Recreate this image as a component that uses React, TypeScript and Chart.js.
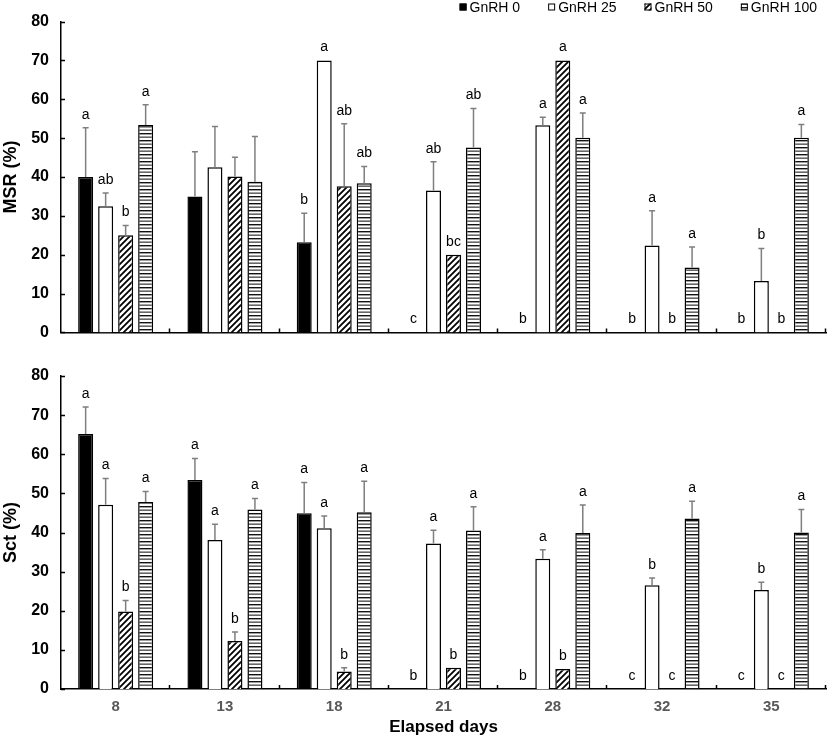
import React, { useEffect, useRef } from "react";
import { Chart, registerables } from "chart.js";

Chart.register(...registerables);

const FONT = "Arial, 'Liberation Sans', Helvetica, sans-serif";

// ---------- data ----------
const categories = ["8", "13", "18", "21", "28", "32", "35"];
const seriesLabels = ["GnRH 0", "GnRH 25", "GnRH 50", "GnRH 100"];

// MSR (%)
const msr0 = [40, 35, 23.2, 0, 0, 0, 0];
const msr0Se = [12.7, 11.5, 7.5, 0, 0, 0, 0];
const msr0Letters = ["a", "", "b", "c", "b", "b", "b"];
const msr25 = [32.5, 42.5, 70, 36.5, 53.3, 22.4, 13.2];
const msr25Se = [3.4, 10.5, 0, 7.4, 2.1, 8.9, 8.4];
const msr25Letters = ["ab", "", "a", "ab", "a", "a", "b"];
const msr50 = [25, 40.1, 37.6, 20, 70, 0, 0];
const msr50Se = [2.5, 5, 16.1, 0, 0, 0, 0];
const msr50Letters = ["b", "", "ab", "bc", "a", "b", "b"];
const msr100 = [53.4, 38.8, 38.4, 47.6, 50.1, 16.7, 50.1];
const msr100Se = [5.2, 11.6, 4.3, 10, 6.4, 5.3, 3.4];
const msr100Letters = ["a", "", "ab", "ab", "a", "a", "a"];

// Sct (%)
const sct0 = [65.2, 53.4, 44.9, 0, 0, 0, 0];
const sct0Se = [6.9, 5.5, 7.9, 0, 0, 0, 0];
const sct0Letters = ["a", "a", "a", "b", "b", "c", "c"];
const sct25 = [47.1, 38.1, 41.1, 37.2, 33.3, 26.5, 25.3];
const sct25Se = [6.7, 4, 3.1, 3.4, 2.3, 1.9, 2];
const sct25Letters = ["a", "a", "a", "a", "a", "b", "b"];
const sct50 = [19.8, 12.3, 4.5, 5.4, 5.1, 0, 0];
const sct50Se = [2.8, 2.3, 0.9, 0, 0, 0, 0];
const sct50Letters = ["b", "b", "b", "b", "b", "c", "c"];
const sct100 = [47.8, 45.9, 45.2, 40.5, 39.9, 43.6, 40];
const sct100Se = [2.7, 2.8, 7.9, 6.1, 7.1, 4.4, 5.9];
const sct100Letters = ["a", "a", "a", "a", "a", "a", "a"];

const yTicksMax = 80;
const yTickStep = 10;

// ---------- patterns ----------
function makeDiagonal(): CanvasPattern | string {
  const c = document.createElement("canvas");
  c.width = 6;
  c.height = 6;
  const g = c.getContext("2d");
  if (!g) return "#888";
  g.fillStyle = "#fff";
  g.fillRect(0, 0, 6, 6);
  g.strokeStyle = "#000";
  g.lineWidth = 1.8;
  g.beginPath();
  g.moveTo(-1, 7);
  g.lineTo(7, -1);
  g.moveTo(-4, 4);
  g.lineTo(4, -4);
  g.moveTo(2, 10);
  g.lineTo(10, 2);
  g.stroke();
  return g.createPattern(c, "repeat") || "#888";
}

function makeHorizontal(): CanvasPattern | string {
  const c = document.createElement("canvas");
  c.width = 4;
  c.height = 7;
  const g = c.getContext("2d");
  if (!g) return "#888";
  g.fillStyle = "#fff";
  g.fillRect(0, 0, 4, 7);
  g.fillStyle = "#111";
  g.fillRect(0, 0, 4, 1.4);
  g.fillStyle = "#444";
  g.fillRect(0, 3.5, 4, 1.3);
  return g.createPattern(c, "repeat") || "#888";
}

// ---------- plugins ----------
const annotPlugin = {
  id: "annot",
  afterDatasetsDraw(chart: any) {
    const ctx = chart.ctx;
    const y = chart.scales.y;
    ctx.save();
    chart.data.datasets.forEach((ds: any, di: number) => {
      const meta = chart.getDatasetMeta(di);
      meta.data.forEach((bar: any, i: number) => {
        const v = ds.data[i];
        const se = ds.errors[i];
        const letter = ds.letters[i];
        let top = bar.y;
        if (se > 0) {
          const ey = y.getPixelForValue(v + se);
          ctx.strokeStyle = "#7f7f7f";
          ctx.lineWidth = 1.5;
          ctx.beginPath();
          ctx.moveTo(bar.x, bar.y);
          ctx.lineTo(bar.x, ey);
          ctx.moveTo(bar.x - 3, ey);
          ctx.lineTo(bar.x + 3, ey);
          ctx.stroke();
          top = ey;
        }
        if (letter) {
          ctx.fillStyle = "#000";
          ctx.font = `14px ${FONT}`;
          ctx.textAlign = "center";
          ctx.textBaseline = "middle";
          ctx.fillText(letter, bar.x, top - 13);
        }
      });
    });
    ctx.restore();
  },
  afterDraw(chart: any) {
    const ctx = chart.ctx;
    const { left, bottom } = chart.chartArea;
    const y = chart.scales.y;
    const x = chart.scales.x;
    ctx.save();
    ctx.strokeStyle = "#000";
    ctx.lineWidth = 1.5;
    ctx.beginPath();
    y.ticks.forEach((t: any) => {
      const py = Math.round(y.getPixelForValue(t.value)) + 0.5;
      ctx.moveTo(left, py);
      ctx.lineTo(left + 4, py);
    });
    for (let i = 1; i <= categories.length; i++) {
      const px = Math.round(x.getPixelForValue(i - 0.5)) - 0.5;
      ctx.moveTo(px, bottom);
      ctx.lineTo(px, bottom - 4);
    }
    ctx.stroke();
    ctx.restore();
  },
};

const legendPlugin = {
  id: "customLegend",
  afterDraw(chart: any, _args: any, opts: any) {
    if (!opts || !opts.show) return;
    const ctx = chart.ctx;
    ctx.save();
    ctx.font = `14px ${FONT}`;
    const box = 7;
    const gapBox = 3;
    const gapItem = 28;
    const dss = chart.data.datasets;
    const widths = dss.map((d: any) => box + gapBox + ctx.measureText(d.label).width);
    const total = widths.reduce((a: number, b: number) => a + b, 0) + gapItem * (dss.length - 1);
    let xPos = 817 - total;
    const base = 11.5;
    dss.forEach((d: any, i: number) => {
      ctx.fillStyle = d.backgroundColor;
      ctx.fillRect(xPos, base - 8, box, box);
      ctx.strokeStyle = "#000";
      ctx.lineWidth = 1;
      ctx.strokeRect(xPos + 0.5, base - 7.5, box - 1, box - 1);
      ctx.fillStyle = "#000";
      ctx.textAlign = "left";
      ctx.textBaseline = "alphabetic";
      ctx.fillText(d.label, xPos + box + gapBox, base);
      xPos += widths[i] + gapItem;
    });
    ctx.restore();
  },
};

function makeDatasets(
  vals: number[][],
  errs: number[][],
  letters: string[][],
  fills: (CanvasPattern | string)[]
) {
  return vals.map((v, i) => ({
    label: seriesLabels[i],
    data: v,
    errors: errs[i],
    letters: letters[i],
    backgroundColor: fills[i],
    borderColor: "#000",
    borderWidth: (c: any) => (c.raw === 0 ? 0 : 1.5),
    barPercentage: 0.75,
    categoryPercentage: 0.732,
  }));
}

function makeConfig(
  datasets: any[],
  yTitle: string,
  showX: boolean,
  padTop: number,
  xHeight: number,
  showLegend: boolean
): any {
  return {
    type: "bar",
    data: { labels: categories, datasets },
    plugins: [annotPlugin, legendPlugin],
    options: {
      animation: false,
      responsive: true,
      maintainAspectRatio: false,
      layout: { padding: { top: padTop, right: 1, left: 0, bottom: 0 } },
      plugins: {
        legend: { display: false },
        tooltip: { enabled: false },
        customLegend: { show: showLegend },
      },
      scales: {
        x: {
          grid: { display: false, drawTicks: false },
          border: { display: true, color: "#000", width: 1.5 },
          ticks: {
            display: showX,
            color: "#595959",
            font: { family: FONT, size: 15, weight: "bold" },
            padding: 9,
          },
          title: {
            display: showX,
            text: "Elapsed days",
            color: "#000",
            font: { family: FONT, size: 17, weight: "bold" },
            padding: { top: 0, bottom: 0 },
          },
          afterFit: (s: any) => {
            s.height = xHeight;
          },
        },
        y: {
          min: 0,
          max: yTicksMax,
          grid: { display: false, drawTicks: false },
          border: { display: true, color: "#000", width: 1.5 },
          ticks: {
            stepSize: yTickStep,
            color: "#000",
            font: { family: FONT, size: 16, weight: "bold" },
            padding: 12,
          },
          title: {
            display: true,
            text: yTitle,
            color: "#000",
            font: { family: FONT, size: 18, weight: "bold" },
            padding: { top: 0, bottom: 0 },
          },
          afterFit: (s: any) => {
            s.width = 61;
          },
        },
      },
    },
  };
}

export default function App() {
  const topRef = useRef<HTMLCanvasElement>(null);
  const botRef = useRef<HTMLCanvasElement>(null);

  useEffect(() => {
    if (!topRef.current || !botRef.current) return;
    const diag = makeDiagonal();
    const horiz = makeHorizontal();
    const fills = ["#000", "#fff", diag, horiz];
    const top = new Chart(
      topRef.current,
      makeConfig(
        makeDatasets(
          [msr0, msr25, msr50, msr100],
          [msr0Se, msr25Se, msr50Se, msr100Se],
          [msr0Letters, msr25Letters, msr50Letters, msr100Letters],
          fills
        ),
        "MSR (%)",
        false,
        19,
        13,
        true
      )
    );
    const bot = new Chart(
      botRef.current,
      makeConfig(
        makeDatasets(
          [sct0, sct25, sct50, sct100],
          [sct0Se, sct25Se, sct50Se, sct100Se],
          [sct0Letters, sct25Letters, sct50Letters, sct100Letters],
          fills
        ),
        "Sct (%)",
        true,
        31,
        49,
        false
      )
    );
    return () => {
      top.destroy();
      bot.destroy();
    };
  }, []);

  return (
    <div style={{ position: "absolute", left: 0, top: 0, width: 827, height: 738, background: "#fff" }}>
      <div style={{ position: "absolute", left: 0, top: 345, width: 827, height: 393 }}>
        <canvas ref={botRef} />
      </div>
      <div style={{ position: "absolute", left: 0, top: 0, width: 827, height: 354 }}>
        <canvas ref={topRef} />
      </div>
    </div>
  );
}
